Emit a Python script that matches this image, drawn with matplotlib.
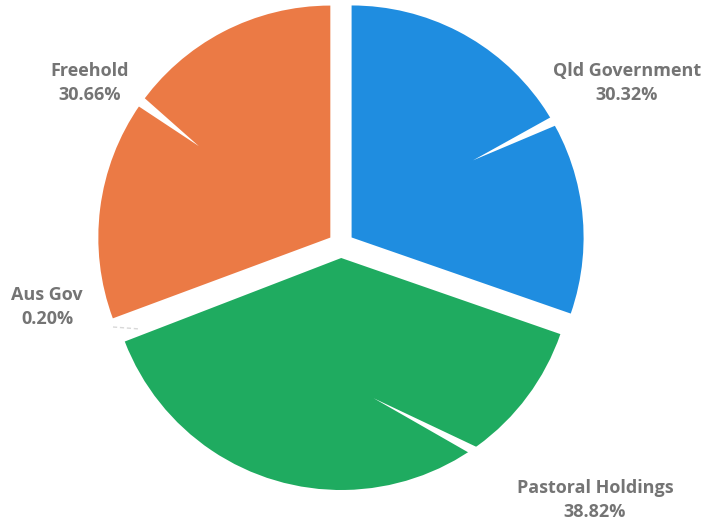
import matplotlib
matplotlib.use("Agg")
import matplotlib.pyplot as plt
import numpy as np

categories = ["Qld Government", "Pastoral Holdings", "Aus Gov", "Freehold"]
values = [30.32, 38.82, 0.20, 30.66]
pct_labels = ["30.32%", "38.82%", "0.20%", "30.66%"]
colors = ["#1f8de0", "#1fab60", "#ffffff", "#eb7a45"]

W, H = 704, 526
fig = plt.figure(figsize=(W / 100, H / 100), dpi=100)
ax = fig.add_axes([0, 0, 1, 1])

center = (341, H - 245)
radius = 232
explode = [13, 13, 13, 13]

wedges, _ = ax.pie(values, colors=colors, startangle=90, counterclock=False,
                   radius=radius, center=center, explode=explode,
                   wedgeprops=dict(linewidth=0), frame=True)
ax.set_xlim(0, W)
ax.set_ylim(0, H)
ax.set_aspect("equal")
ax.axis("off")

# label text positions (pixels, y down) and leader-line tips inside wedges
label_pos = {"Qld Government": (627, 83), "Pastoral Holdings": (595, 500),
             "Aus Gov": (47, 307), "Freehold": (90, 83)}
tip_frac = {"Qld Government": (0.62, -3), "Pastoral Holdings": (0.62, 12),
            "Aus Gov": (0.9, 0), "Freehold": (0.69, 0)}
tail_pos = {"Qld Government": (560, 118), "Pastoral Holdings": (492, 460),
            "Freehold": (140, 101)}

for w, cat, pct in zip(wedges, categories, pct_labels):
    lx, ly = label_pos[cat]
    ax.text(lx, H - ly, f"{cat}\n{pct}", ha="center", va="center",
            fontsize=13, fontweight="bold", color="#747474",
            family=["Open Sans", "DejaVu Sans"], linespacing=1.45)
    if cat in tail_pos:
        cx, cy = w.center
        th1, th2 = np.radians(w.theta1), np.radians(w.theta2)
        frac, dang = tip_frac[cat]
        th = 0.5 * (th1 + th2) + np.radians(dang)
        tip = (cx + frac * radius * np.cos(th), cy + frac * radius * np.sin(th))
        tx, ty = tail_pos[cat]
        ax.annotate("", xy=tip, xytext=(tx, H - ty),
                    arrowprops=dict(arrowstyle="wedge,tail_width=0.75,shrink_factor=0.5",
                                    color="white", lw=0, shrinkA=0, shrinkB=0))

# faint leader for the tiny Aus Gov slice
ax.plot([113, 140], [H - 327, H - 329], color="#d8d8d8", lw=1, ls=(0, (3, 2)))

fig.savefig("out.png", dpi=100, facecolor="white")
